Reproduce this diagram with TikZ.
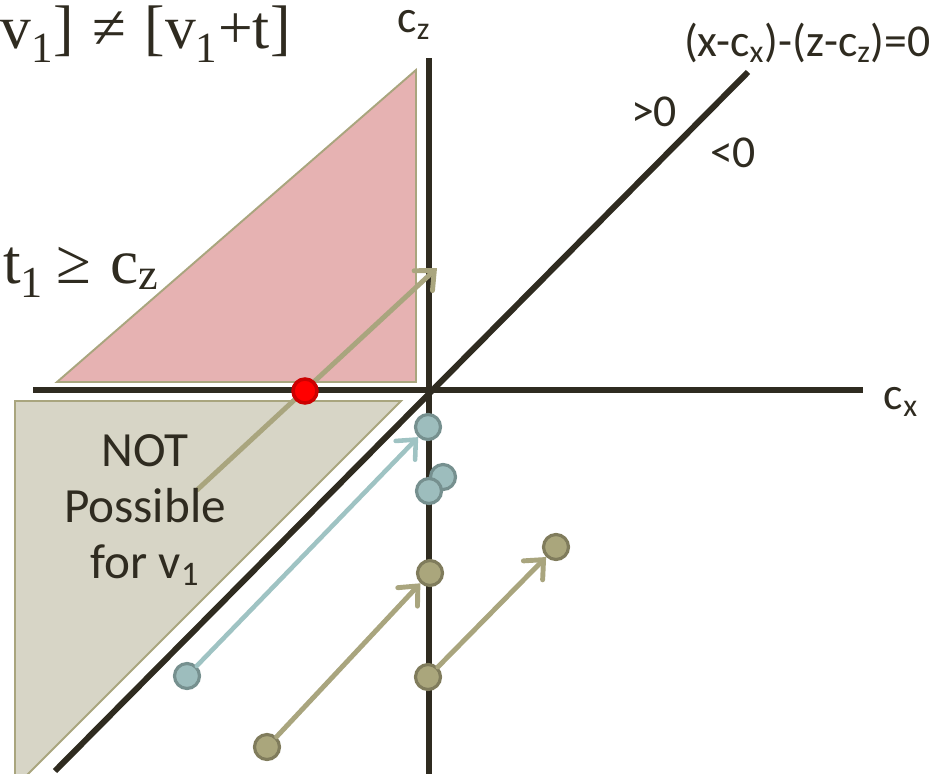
\documentclass[tikz,border=0pt]{standalone}
\usepackage{fontspec}
\setmainfont{Carlito}
\newfontfamily\serifrm{Liberation Serif}
\usepackage{tikz}
\usetikzlibrary{positioning,arrows.meta}
\definecolor{axisdark}{RGB}{47,43,32}
\definecolor{olive}{RGB}{169,165,126}
\definecolor{olivedot}{RGB}{170,166,124}
\definecolor{olivedark}{RGB}{128,124,92}
\definecolor{tealdot}{RGB}{157,189,189}
\definecolor{tealdark}{RGB}{118,144,143}
\definecolor{tealline}{RGB}{159,195,195}
\definecolor{pinkfill}{RGB}{230,178,178}
\definecolor{greyfill}{RGB}{215,213,198}
\tikzset{
  axisline/.style={line width=3.4pt, draw=axisdark},
  region/.style={line width=1.1pt, draw=olive},
  olivearrow/.style={-{Straight Barb[length=3mm, width=5.4mm, line cap=round]}, line width=2.8pt, draw=olive, line cap=round},
  tealarrow/.style={-{Straight Barb[length=3mm, width=5.4mm, line cap=round]}, line width=2.6pt, draw=tealline, line cap=round},
  oldot/.style={circle, draw=olivedark, fill=olivedot, line width=1.8pt, minimum size=0.5cm, inner sep=0pt},
  tldot/.style={circle, draw=tealdark, fill=tealdot, line width=1.8pt, minimum size=0.5cm, inner sep=0pt},
  reddot/.style={circle, draw=red!80!black, fill=red, line width=2pt, minimum size=0.48cm, inner sep=0pt},
  lbl/.style={text=axisdark, inner sep=0pt, font=\fontsize{26}{30}\selectfont},
  serlbl/.style={text=axisdark, inner sep=0pt, anchor=base west}
}
\begin{document}
\begin{tikzpicture}[x=0.02cm, y=-0.02cm]
  \useasboundingbox (0,0) rectangle (940,774);
  % shaded regions
  \filldraw[region, fill=pinkfill] (57,382) -- (416,70) -- (416,382) -- cycle;
  \filldraw[region, fill=greyfill] (15,401) -- (401,401) -- (15,787) -- cycle;
  % axes and the diagonal
  \coordinate (zbot) at (429,774);
  \coordinate (ztop) at (429,58);
  \coordinate (xlft) at (33,390);
  \coordinate (xrgt) at (863,390);
  \coordinate (dlow) at (55,771);
  \coordinate (dtop) at (748,72);
  \draw[axisline] (zbot) -- (ztop);
  \draw[axisline] (xlft) -- (xrgt);
  \draw[axisline] (dlow) -- (dtop);
  % points
  \node[tldot] (t1) at (428,427) {};
  \node[tldot] (t2) at (443,477) {};
  \node[tldot] (t3) at (429,491) {};
  \node[tldot] (t0) at (187,676) {};
  \node[oldot] (o1) at (430,573) {};
  \node[oldot] (o2) at (428,677) {};
  \node[oldot] (o3) at (556,547) {};
  \node[oldot] (o0) at (267,747) {};
  \coordinate (s0) at (197,490);
  \coordinate (s1) at (437,268);
  % arrows
  \draw[olivearrow] (s0) -- (s1);
  \node[reddot] (r1) at (305,391) {};
  \draw[tealarrow] (t0) -- (t1);
  \draw[olivearrow] (o0) -- (o1);
  \draw[olivearrow] (o2) -- (o3);
  % labels
  \node[lbl] (czlbl) at (414,25) {c\textsubscript{z}};
  \node[lbl] (cxlbl) at (901,402) {c\textsubscript{x}};
  \node[lbl, anchor=east] (eqlbl) at (931,43) {(x-c\textsubscript{x})-(z-c\textsubscript{z})=0};
  \node[lbl] (gtlbl) at (654,112) {>0};
  \node[lbl] (ltlbl) at (733,153) {<0};
  \node[lbl, align=center, font=\fontsize{28}{32}\selectfont] (notlbl) at (145,510) {NOT\\Possible\\for v\textsubscript{1}};
  \node[serlbl, font=\serifrm\fontsize{36}{40}\selectfont] (tlbl) at (3,283) {t\textsubscript{1}\hspace{0.2em}≥\hspace{0.3em}c\textsubscript{z}};
  \node[serlbl, font=\serifrm\fontsize{35}{40}\selectfont] (vlbl) at (0,49) {v\textsubscript{1}]\hspace{0.3em}≠\hspace{0.3em}[v\textsubscript{1}+t]};
\end{tikzpicture}
\end{document}
